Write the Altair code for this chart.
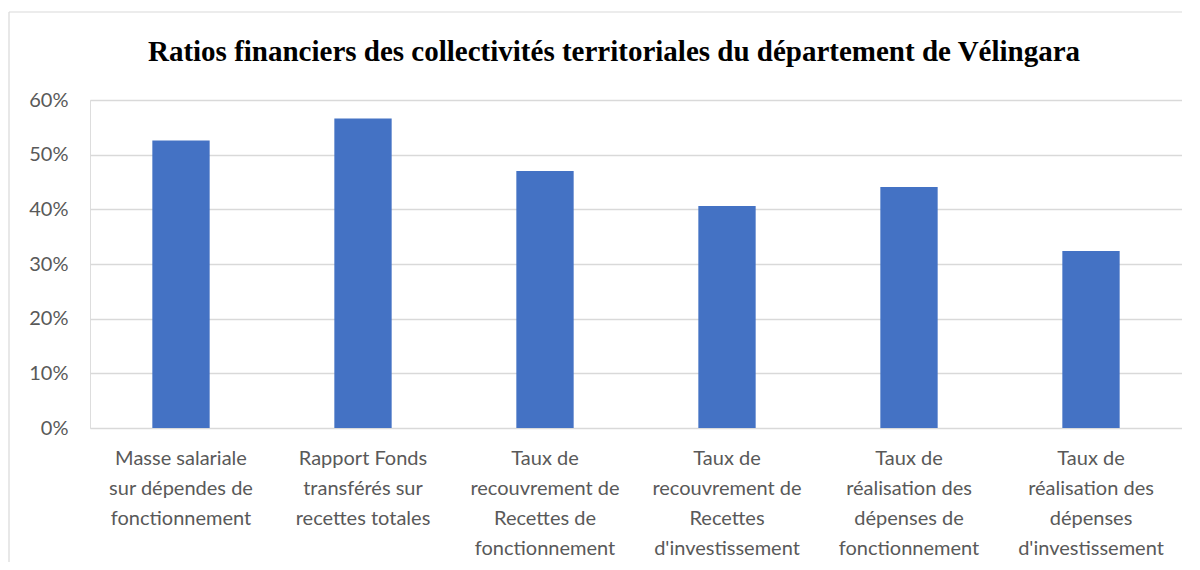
import altair as alt
import pandas as pd

title_text = "Ratios financiers des collectivités territoriales du département de Vélingara"
categories = [
    "Masse salariale|sur dépendes de|fonctionnement",
    "Rapport Fonds|transférés  sur|recettes totales",
    "Taux de|recouvrement de|Recettes de|fonctionnement",
    "Taux de|recouvrement de|Recettes|d'investissement",
    "Taux de|réalisation des|dépenses  de|fonctionnement",
    "Taux de|réalisation des|dépenses|d'investissement",
]
values = [0.526, 0.566, 0.470, 0.406, 0.441, 0.324]
y_ticks = [0, 0.1, 0.2, 0.3, 0.4, 0.5, 0.6]

df = pd.DataFrame({"cat": categories, "val": values})

bars = alt.Chart(df).mark_bar(color="#4472C4").encode(
    x=alt.X("cat:N", sort=None, title=None,
            scale=alt.Scale(paddingInner=0.685, paddingOuter=0.3425),
            axis=alt.Axis(labelExpr="split(datum.label, '|')", labelAngle=0,
                          labelFont="Lato", labelFontSize=20, labelColor="#595959",
                          labelLineHeight=30, labelPadding=20, labelBaseline="top",
                          ticks=False, domain=False, labelLimit=300)),
    y=alt.Y("val:Q", title=None,
            scale=alt.Scale(domain=[0, 0.6], nice=False),
            axis=alt.Axis(values=y_ticks, format=".0%", labelFont="Lato",
                          labelFontSize=20, labelColor="#595959", labelPadding=22,
                          ticks=False, domain=False, gridColor="#D9D9D9",
                          gridWidth=1.5)),
)

one = pd.DataFrame({"t": [title_text]})
title_mark = alt.Chart(one).mark_text(
    font="Liberation Serif", fontSize=29, fontWeight="bold", color="#000000",
    align="center", baseline="alphabetic", clip=False,
).encode(text="t:N", x=alt.value(524), y=alt.value(-39))

left_line = alt.Chart(one).mark_rule(color="#D9D9D9", strokeWidth=1.2, clip=False).encode(
    x=alt.value(-81), y=alt.value(-88), y2=alt.value(480))
top_line = alt.Chart(one).mark_rule(color="#D9D9D9", strokeWidth=1.2, clip=False).encode(
    x=alt.value(-81), x2=alt.value(1110), y=alt.value(-88))

chart = alt.layer(left_line, top_line, bars, title_mark).properties(
    width=1092, height=328,
    autosize=alt.AutoSizeParams(type="none"),
    padding={"left": 82, "top": 92, "right": 0, "bottom": 134},
).configure_view(strokeWidth=0, stroke="transparent").configure(background="white")

chart.save("out.html", embed_options={"renderer": "svg", "actions": False})
